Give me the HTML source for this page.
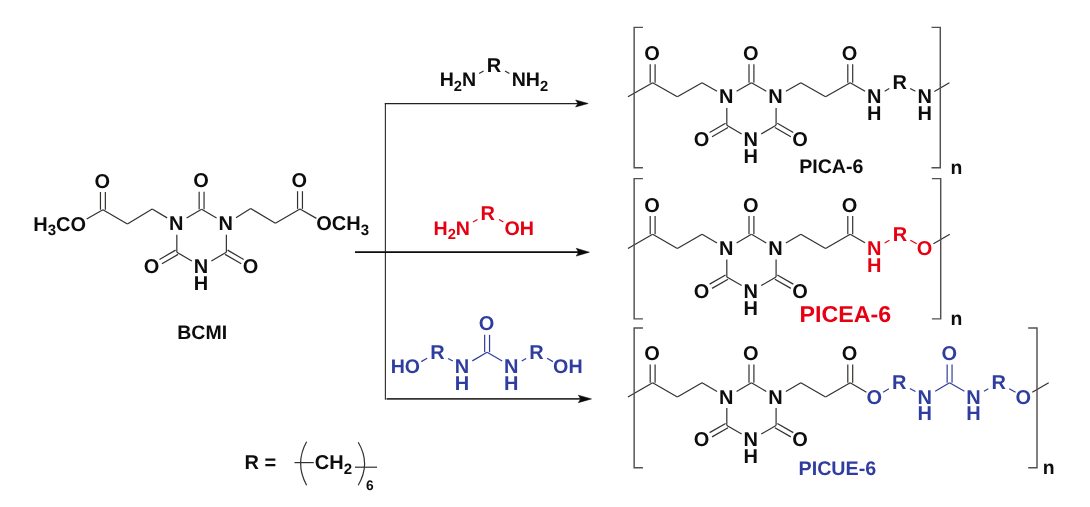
<!DOCTYPE html>
<html><head><meta charset="utf-8"><title>Scheme</title>
<style>
html,body{margin:0;padding:0;background:#fff;}
body{width:1090px;height:507px;overflow:hidden;}
svg{display:block;will-change:transform;text-rendering:geometricPrecision;font-family:"Liberation Sans",sans-serif;font-weight:bold;}
</style></head><body>
<svg width="1090" height="507" viewBox="0 0 1090 507">
<rect width="1090" height="507" fill="#fff"/>
<line x1="186.62" y1="218.00" x2="201.60" y2="209.35" stroke="#33302e" stroke-width="1.2" stroke-linecap="butt"/>
<line x1="201.60" y1="209.35" x2="216.58" y2="218.00" stroke="#33302e" stroke-width="1.2" stroke-linecap="butt"/>
<line x1="226.37" y1="234.65" x2="226.37" y2="252.25" stroke="#33302e" stroke-width="1.2" stroke-linecap="butt"/>
<line x1="226.37" y1="252.25" x2="211.39" y2="260.90" stroke="#33302e" stroke-width="1.2" stroke-linecap="butt"/>
<line x1="191.81" y1="260.90" x2="176.83" y2="252.25" stroke="#33302e" stroke-width="1.2" stroke-linecap="butt"/>
<line x1="176.83" y1="252.25" x2="176.83" y2="234.65" stroke="#33302e" stroke-width="1.2" stroke-linecap="butt"/>
<line x1="199.15" y1="209.35" x2="199.15" y2="191.65" stroke="#33302e" stroke-width="1.2" stroke-linecap="butt"/>
<line x1="204.05" y1="209.35" x2="204.05" y2="191.65" stroke="#33302e" stroke-width="1.2" stroke-linecap="butt"/>
<line x1="178.06" y1="254.37" x2="161.95" y2="263.67" stroke="#33302e" stroke-width="1.2" stroke-linecap="butt"/>
<line x1="175.61" y1="250.13" x2="159.50" y2="259.43" stroke="#33302e" stroke-width="1.2" stroke-linecap="butt"/>
<line x1="227.59" y1="250.13" x2="243.70" y2="259.43" stroke="#33302e" stroke-width="1.2" stroke-linecap="butt"/>
<line x1="225.14" y1="254.37" x2="241.25" y2="263.67" stroke="#33302e" stroke-width="1.2" stroke-linecap="butt"/>
<text x="176.23" y="230.23" fill="#0d0d0d" font-size="20.0" text-anchor="middle" >N</text>
<text x="225.77" y="230.23" fill="#0d0d0d" font-size="20.0" text-anchor="middle" >N</text>
<text x="201.00" y="273.13" fill="#0d0d0d" font-size="20.0" text-anchor="middle" >N</text>
<text x="201.00" y="290.03" fill="#0d0d0d" font-size="20.0" text-anchor="middle" >H</text>
<text x="201.00" y="187.33" fill="#0d0d0d" font-size="20.0" text-anchor="middle" >O</text>
<text x="151.46" y="273.13" fill="#0d0d0d" font-size="20.0" text-anchor="middle" >O</text>
<text x="250.54" y="273.13" fill="#0d0d0d" font-size="20.0" text-anchor="middle" >O</text>
<line x1="167.12" y1="217.87" x2="152.20" y2="209.00" stroke="#33302e" stroke-width="1.2" stroke-linecap="butt"/>
<line x1="152.20" y1="209.00" x2="127.40" y2="223.90" stroke="#33302e" stroke-width="1.2" stroke-linecap="butt"/>
<line x1="127.40" y1="223.90" x2="102.90" y2="209.70" stroke="#33302e" stroke-width="1.2" stroke-linecap="butt"/>
<line x1="100.45" y1="209.70" x2="100.45" y2="192.00" stroke="#33302e" stroke-width="1.2" stroke-linecap="butt"/>
<line x1="105.35" y1="209.70" x2="105.35" y2="192.00" stroke="#33302e" stroke-width="1.2" stroke-linecap="butt"/>
<line x1="102.90" y1="209.70" x2="86.71" y2="219.09" stroke="#33302e" stroke-width="1.2" stroke-linecap="butt"/>
<text x="102.30" y="187.68" fill="#0d0d0d" font-size="20.0" text-anchor="middle" >O</text>
<text x="86.05" y="230.68" fill="#0d0d0d" font-size="20.0" text-anchor="end" >H<tspan font-size="15.00" dy="4.70">3</tspan><tspan dy="-4.70">CO</tspan></text>
<line x1="235.98" y1="217.71" x2="250.70" y2="208.60" stroke="#33302e" stroke-width="1.2" stroke-linecap="butt"/>
<line x1="250.70" y1="208.60" x2="275.40" y2="223.20" stroke="#33302e" stroke-width="1.2" stroke-linecap="butt"/>
<line x1="275.40" y1="223.20" x2="300.00" y2="208.90" stroke="#33302e" stroke-width="1.2" stroke-linecap="butt"/>
<line x1="297.55" y1="208.90" x2="297.55" y2="191.20" stroke="#33302e" stroke-width="1.2" stroke-linecap="butt"/>
<line x1="302.45" y1="208.90" x2="302.45" y2="191.20" stroke="#33302e" stroke-width="1.2" stroke-linecap="butt"/>
<line x1="300.00" y1="208.90" x2="316.39" y2="218.39" stroke="#33302e" stroke-width="1.2" stroke-linecap="butt"/>
<text x="299.40" y="186.88" fill="#0d0d0d" font-size="20.0" text-anchor="middle" >O</text>
<text x="316.30" y="229.88" fill="#0d0d0d" font-size="20.0" text-anchor="start" >OCH<tspan font-size="15.00" dy="4.70">3</tspan></text>
<text x="202.20" y="338.91" fill="#0d0d0d" font-size="19.5" text-anchor="middle" >BCMI</text>
<line x1="385.40" y1="102.88" x2="385.40" y2="399.67" stroke="#33302e" stroke-width="1.15" stroke-linecap="butt"/>
<line x1="384.83" y1="103.50" x2="578.80" y2="103.50" stroke="#242221" stroke-width="1.25" stroke-linecap="butt"/>
<path d="M588.20,103.50 L575.60,100.00 L578.00,103.50 L575.60,107.00 Z" fill="#0a0808" stroke="#0a0808" stroke-width="0.5" stroke-linejoin="round"/>
<line x1="355.00" y1="252.20" x2="580.00" y2="252.20" stroke="#0d0b0b" stroke-width="1.75" stroke-linecap="butt"/>
<path d="M589.40,252.20 L576.20,248.30 L578.60,252.20 L576.20,256.10 Z" fill="#0a0808" stroke="#0a0808" stroke-width="0.5" stroke-linejoin="round"/>
<line x1="386.50" y1="398.90" x2="582.10" y2="398.90" stroke="#353230" stroke-width="1.75" stroke-linecap="butt"/>
<path d="M591.50,398.90 L578.30,395.15 L580.70,398.90 L578.30,402.65 Z" fill="#0a0808" stroke="#0a0808" stroke-width="0.5" stroke-linejoin="round"/>
<text x="476.20" y="86.04" fill="#0d0d0d" font-size="19.6" text-anchor="end" >H<tspan font-size="14.70" dy="4.61">2</tspan><tspan dy="-4.61">N</tspan></text>
<text x="494.00" y="71.78" fill="#0d0d0d" font-size="20.0" text-anchor="middle" >R</text>
<text x="511.70" y="86.04" fill="#0d0d0d" font-size="19.6" text-anchor="start" >NH<tspan font-size="14.70" dy="4.61">2</tspan></text>
<line x1="479.10" y1="73.60" x2="483.60" y2="71.00" stroke="#33302e" stroke-width="1.2" stroke-linecap="butt"/>
<line x1="505.00" y1="71.00" x2="509.40" y2="73.60" stroke="#33302e" stroke-width="1.2" stroke-linecap="butt"/>
<text x="470.00" y="234.74" fill="#e60012" font-size="19.6" text-anchor="end" >H<tspan font-size="14.70" dy="4.61">2</tspan><tspan dy="-4.61">N</tspan></text>
<text x="487.80" y="219.98" fill="#e60012" font-size="20.0" text-anchor="middle" >R</text>
<text x="504.40" y="234.78" fill="#e60012" font-size="19.7" text-anchor="start" >OH</text>
<line x1="473.00" y1="222.00" x2="477.50" y2="219.40" stroke="#e60012" stroke-width="1.2" stroke-linecap="butt"/>
<line x1="499.00" y1="219.40" x2="503.40" y2="222.00" stroke="#e60012" stroke-width="1.2" stroke-linecap="butt"/>
<line x1="484.65" y1="352.20" x2="484.65" y2="334.80" stroke="#2f3e9e" stroke-width="1.2" stroke-linecap="butt"/>
<line x1="489.55" y1="352.20" x2="489.55" y2="334.80" stroke="#2f3e9e" stroke-width="1.2" stroke-linecap="butt"/>
<line x1="487.10" y1="352.20" x2="472.34" y2="360.87" stroke="#2f3e9e" stroke-width="1.2" stroke-linecap="butt"/>
<line x1="487.10" y1="352.20" x2="502.13" y2="360.93" stroke="#2f3e9e" stroke-width="1.2" stroke-linecap="butt"/>
<line x1="452.76" y1="361.05" x2="448.05" y2="358.40" stroke="#2f3e9e" stroke-width="1.2" stroke-linecap="butt"/>
<line x1="521.71" y1="361.00" x2="526.18" y2="358.45" stroke="#2f3e9e" stroke-width="1.2" stroke-linecap="butt"/>
<line x1="427.12" y1="358.35" x2="421.28" y2="361.62" stroke="#2f3e9e" stroke-width="1.2" stroke-linecap="butt"/>
<line x1="547.08" y1="358.35" x2="552.92" y2="361.62" stroke="#2f3e9e" stroke-width="1.2" stroke-linecap="butt"/>
<text x="486.50" y="330.48" fill="#2f3e9e" font-size="20.0" text-anchor="middle" >O</text>
<text x="462.00" y="373.18" fill="#2f3e9e" font-size="20.0" text-anchor="middle" >N</text>
<text x="462.00" y="389.58" fill="#2f3e9e" font-size="20.0" text-anchor="middle" >H</text>
<text x="511.30" y="373.18" fill="#2f3e9e" font-size="20.0" text-anchor="middle" >N</text>
<text x="511.30" y="389.58" fill="#2f3e9e" font-size="20.0" text-anchor="middle" >H</text>
<text x="437.60" y="359.08" fill="#2f3e9e" font-size="20.0" text-anchor="middle" >R</text>
<text x="536.60" y="359.08" fill="#2f3e9e" font-size="20.0" text-anchor="middle" >R</text>
<text x="420.08" y="372.74" fill="#2f3e9e" font-size="19.6" text-anchor="end" >HO</text>
<text x="553.12" y="372.78" fill="#2f3e9e" font-size="19.7" text-anchor="start" >OH</text>
<line x1="736.60" y1="91.22" x2="751.45" y2="82.65" stroke="#33302e" stroke-width="1.2" stroke-linecap="butt"/>
<line x1="751.45" y1="82.65" x2="766.30" y2="91.22" stroke="#33302e" stroke-width="1.2" stroke-linecap="butt"/>
<line x1="776.09" y1="107.88" x2="776.09" y2="125.32" stroke="#33302e" stroke-width="1.2" stroke-linecap="butt"/>
<line x1="776.09" y1="125.32" x2="761.24" y2="133.90" stroke="#33302e" stroke-width="1.2" stroke-linecap="butt"/>
<line x1="741.66" y1="133.90" x2="726.81" y2="125.32" stroke="#33302e" stroke-width="1.2" stroke-linecap="butt"/>
<line x1="726.81" y1="125.32" x2="726.81" y2="107.88" stroke="#33302e" stroke-width="1.2" stroke-linecap="butt"/>
<line x1="749.00" y1="82.65" x2="749.00" y2="64.35" stroke="#33302e" stroke-width="1.2" stroke-linecap="butt"/>
<line x1="753.90" y1="82.65" x2="753.90" y2="64.35" stroke="#33302e" stroke-width="1.2" stroke-linecap="butt"/>
<line x1="728.04" y1="127.45" x2="712.06" y2="136.67" stroke="#33302e" stroke-width="1.2" stroke-linecap="butt"/>
<line x1="725.59" y1="123.20" x2="709.61" y2="132.43" stroke="#33302e" stroke-width="1.2" stroke-linecap="butt"/>
<line x1="777.31" y1="123.20" x2="793.29" y2="132.43" stroke="#33302e" stroke-width="1.2" stroke-linecap="butt"/>
<line x1="774.86" y1="127.45" x2="790.84" y2="136.67" stroke="#33302e" stroke-width="1.2" stroke-linecap="butt"/>
<text x="726.21" y="103.45" fill="#0d0d0d" font-size="20.0" text-anchor="middle" >N</text>
<text x="775.49" y="103.45" fill="#0d0d0d" font-size="20.0" text-anchor="middle" >N</text>
<text x="750.85" y="146.13" fill="#0d0d0d" font-size="20.0" text-anchor="middle" >N</text>
<text x="750.85" y="163.03" fill="#0d0d0d" font-size="20.0" text-anchor="middle" >H</text>
<text x="750.85" y="60.03" fill="#0d0d0d" font-size="20.0" text-anchor="middle" >O</text>
<text x="701.57" y="146.13" fill="#0d0d0d" font-size="20.0" text-anchor="middle" >O</text>
<text x="800.13" y="146.13" fill="#0d0d0d" font-size="20.0" text-anchor="middle" >O</text>
<line x1="717.01" y1="91.25" x2="702.05" y2="82.65" stroke="#33302e" stroke-width="1.2" stroke-linecap="butt"/>
<line x1="702.05" y1="82.65" x2="677.35" y2="96.75" stroke="#33302e" stroke-width="1.2" stroke-linecap="butt"/>
<line x1="677.35" y1="96.75" x2="652.65" y2="82.65" stroke="#33302e" stroke-width="1.2" stroke-linecap="butt"/>
<line x1="650.20" y1="82.65" x2="650.20" y2="64.35" stroke="#33302e" stroke-width="1.2" stroke-linecap="butt"/>
<line x1="655.10" y1="82.65" x2="655.10" y2="64.35" stroke="#33302e" stroke-width="1.2" stroke-linecap="butt"/>
<line x1="652.65" y1="82.65" x2="627.95" y2="96.75" stroke="#33302e" stroke-width="1.2" stroke-linecap="butt"/>
<text x="652.05" y="60.03" fill="#0d0d0d" font-size="20.0" text-anchor="middle" >O</text>
<line x1="785.89" y1="91.25" x2="800.85" y2="82.65" stroke="#33302e" stroke-width="1.2" stroke-linecap="butt"/>
<line x1="800.85" y1="82.65" x2="825.55" y2="96.75" stroke="#33302e" stroke-width="1.2" stroke-linecap="butt"/>
<line x1="825.55" y1="96.75" x2="850.25" y2="82.65" stroke="#33302e" stroke-width="1.2" stroke-linecap="butt"/>
<line x1="847.80" y1="82.65" x2="847.80" y2="64.35" stroke="#33302e" stroke-width="1.2" stroke-linecap="butt"/>
<line x1="852.70" y1="82.65" x2="852.70" y2="64.35" stroke="#33302e" stroke-width="1.2" stroke-linecap="butt"/>
<text x="849.65" y="60.03" fill="#0d0d0d" font-size="20.0" text-anchor="middle" >O</text>
<line x1="850.20" y1="82.65" x2="865.09" y2="91.15" stroke="#33302e" stroke-width="1.2" stroke-linecap="butt"/>
<line x1="884.72" y1="91.16" x2="889.22" y2="88.59" stroke="#33302e" stroke-width="1.2" stroke-linecap="butt"/>
<line x1="910.17" y1="88.43" x2="915.40" y2="91.31" stroke="#33302e" stroke-width="1.2" stroke-linecap="butt"/>
<line x1="934.36" y1="91.45" x2="949.40" y2="82.65" stroke="#33302e" stroke-width="1.2" stroke-linecap="butt"/>
<text x="874.30" y="103.33" fill="#0d0d0d" font-size="20.0" text-anchor="middle" >N</text>
<text x="874.30" y="120.23" fill="#0d0d0d" font-size="20.0" text-anchor="middle" >H</text>
<text x="899.65" y="89.23" fill="#0d0d0d" font-size="20.0" text-anchor="middle" >R</text>
<text x="924.70" y="103.33" fill="#0d0d0d" font-size="20.0" text-anchor="middle" >N</text>
<text x="924.70" y="120.23" fill="#0d0d0d" font-size="20.0" text-anchor="middle" >H</text>
<path d="M642.9499999999999,27.35 H634.15 V167.75 H642.9499999999999" fill="none" stroke="#55504c" stroke-width="1.45"/>
<path d="M931.5,27.35 H940.3 V167.75 H931.5" fill="none" stroke="#55504c" stroke-width="1.45"/>
<text x="831.30" y="172.54" fill="#0d0d0d" font-size="19.6" text-anchor="middle" >PICA-6</text>
<text x="950.60" y="173.97" fill="#0d0d0d" font-size="19.4" text-anchor="start" >n</text>
<line x1="736.60" y1="242.92" x2="751.45" y2="234.35" stroke="#33302e" stroke-width="1.2" stroke-linecap="butt"/>
<line x1="751.45" y1="234.35" x2="766.30" y2="242.92" stroke="#33302e" stroke-width="1.2" stroke-linecap="butt"/>
<line x1="776.09" y1="259.57" x2="776.09" y2="277.02" stroke="#33302e" stroke-width="1.2" stroke-linecap="butt"/>
<line x1="776.09" y1="277.02" x2="761.24" y2="285.60" stroke="#33302e" stroke-width="1.2" stroke-linecap="butt"/>
<line x1="741.66" y1="285.60" x2="726.81" y2="277.02" stroke="#33302e" stroke-width="1.2" stroke-linecap="butt"/>
<line x1="726.81" y1="277.02" x2="726.81" y2="259.57" stroke="#33302e" stroke-width="1.2" stroke-linecap="butt"/>
<line x1="749.00" y1="234.35" x2="749.00" y2="216.05" stroke="#33302e" stroke-width="1.2" stroke-linecap="butt"/>
<line x1="753.90" y1="234.35" x2="753.90" y2="216.05" stroke="#33302e" stroke-width="1.2" stroke-linecap="butt"/>
<line x1="728.04" y1="279.15" x2="712.06" y2="288.37" stroke="#33302e" stroke-width="1.2" stroke-linecap="butt"/>
<line x1="725.59" y1="274.90" x2="709.61" y2="284.13" stroke="#33302e" stroke-width="1.2" stroke-linecap="butt"/>
<line x1="777.31" y1="274.90" x2="793.29" y2="284.13" stroke="#33302e" stroke-width="1.2" stroke-linecap="butt"/>
<line x1="774.86" y1="279.15" x2="790.84" y2="288.37" stroke="#33302e" stroke-width="1.2" stroke-linecap="butt"/>
<text x="726.21" y="255.15" fill="#0d0d0d" font-size="20.0" text-anchor="middle" >N</text>
<text x="775.49" y="255.15" fill="#0d0d0d" font-size="20.0" text-anchor="middle" >N</text>
<text x="750.85" y="297.83" fill="#0d0d0d" font-size="20.0" text-anchor="middle" >N</text>
<text x="750.85" y="314.73" fill="#0d0d0d" font-size="20.0" text-anchor="middle" >H</text>
<text x="750.85" y="211.73" fill="#0d0d0d" font-size="20.0" text-anchor="middle" >O</text>
<text x="701.57" y="297.83" fill="#0d0d0d" font-size="20.0" text-anchor="middle" >O</text>
<text x="800.13" y="297.83" fill="#0d0d0d" font-size="20.0" text-anchor="middle" >O</text>
<line x1="717.01" y1="242.95" x2="702.05" y2="234.35" stroke="#33302e" stroke-width="1.2" stroke-linecap="butt"/>
<line x1="702.05" y1="234.35" x2="677.35" y2="248.45" stroke="#33302e" stroke-width="1.2" stroke-linecap="butt"/>
<line x1="677.35" y1="248.45" x2="652.65" y2="234.35" stroke="#33302e" stroke-width="1.2" stroke-linecap="butt"/>
<line x1="650.20" y1="234.35" x2="650.20" y2="216.05" stroke="#33302e" stroke-width="1.2" stroke-linecap="butt"/>
<line x1="655.10" y1="234.35" x2="655.10" y2="216.05" stroke="#33302e" stroke-width="1.2" stroke-linecap="butt"/>
<line x1="652.65" y1="234.35" x2="627.95" y2="248.45" stroke="#33302e" stroke-width="1.2" stroke-linecap="butt"/>
<text x="652.05" y="211.73" fill="#0d0d0d" font-size="20.0" text-anchor="middle" >O</text>
<line x1="785.89" y1="242.95" x2="800.85" y2="234.35" stroke="#33302e" stroke-width="1.2" stroke-linecap="butt"/>
<line x1="800.85" y1="234.35" x2="825.55" y2="248.45" stroke="#33302e" stroke-width="1.2" stroke-linecap="butt"/>
<line x1="825.55" y1="248.45" x2="850.25" y2="234.35" stroke="#33302e" stroke-width="1.2" stroke-linecap="butt"/>
<line x1="847.80" y1="234.35" x2="847.80" y2="216.05" stroke="#33302e" stroke-width="1.2" stroke-linecap="butt"/>
<line x1="852.70" y1="234.35" x2="852.70" y2="216.05" stroke="#33302e" stroke-width="1.2" stroke-linecap="butt"/>
<text x="849.65" y="211.73" fill="#0d0d0d" font-size="20.0" text-anchor="middle" >O</text>
<line x1="850.20" y1="234.35" x2="865.00" y2="242.83" stroke="#33302e" stroke-width="1.2" stroke-linecap="butt"/>
<line x1="884.65" y1="242.92" x2="889.44" y2="240.23" stroke="#e60012" stroke-width="1.2" stroke-linecap="butt"/>
<line x1="910.37" y1="240.21" x2="916.72" y2="243.76" stroke="#e60012" stroke-width="1.2" stroke-linecap="butt"/>
<line x1="933.44" y1="243.69" x2="949.80" y2="234.35" stroke="#33302e" stroke-width="1.2" stroke-linecap="butt"/>
<text x="874.20" y="255.03" fill="#e60012" font-size="20.0" text-anchor="middle" >N</text>
<text x="874.20" y="271.93" fill="#e60012" font-size="20.0" text-anchor="middle" >H</text>
<text x="899.90" y="240.93" fill="#e60012" font-size="20.0" text-anchor="middle" >R</text>
<text x="924.50" y="255.03" fill="#e60012" font-size="20.0" text-anchor="middle" >O</text>
<path d="M642.9499999999999,178.6 H634.15 V318.85 H642.9499999999999" fill="none" stroke="#55504c" stroke-width="1.45"/>
<path d="M931.9000000000001,178.6 H940.7 V318.85 H931.9000000000001" fill="none" stroke="#55504c" stroke-width="1.45"/>
<text x="799.50" y="322.16" fill="#e60012" font-size="23.0" text-anchor="start" textLength="91.6" lengthAdjust="spacingAndGlyphs">PICEA-6</text>
<text x="950.60" y="325.27" fill="#0d0d0d" font-size="19.4" text-anchor="start" >n</text>
<line x1="736.60" y1="391.42" x2="751.45" y2="382.85" stroke="#33302e" stroke-width="1.2" stroke-linecap="butt"/>
<line x1="751.45" y1="382.85" x2="766.30" y2="391.42" stroke="#33302e" stroke-width="1.2" stroke-linecap="butt"/>
<line x1="776.09" y1="408.07" x2="776.09" y2="425.52" stroke="#33302e" stroke-width="1.2" stroke-linecap="butt"/>
<line x1="776.09" y1="425.52" x2="761.24" y2="434.10" stroke="#33302e" stroke-width="1.2" stroke-linecap="butt"/>
<line x1="741.66" y1="434.10" x2="726.81" y2="425.52" stroke="#33302e" stroke-width="1.2" stroke-linecap="butt"/>
<line x1="726.81" y1="425.52" x2="726.81" y2="408.07" stroke="#33302e" stroke-width="1.2" stroke-linecap="butt"/>
<line x1="749.00" y1="382.85" x2="749.00" y2="364.55" stroke="#33302e" stroke-width="1.2" stroke-linecap="butt"/>
<line x1="753.90" y1="382.85" x2="753.90" y2="364.55" stroke="#33302e" stroke-width="1.2" stroke-linecap="butt"/>
<line x1="728.04" y1="427.65" x2="712.06" y2="436.87" stroke="#33302e" stroke-width="1.2" stroke-linecap="butt"/>
<line x1="725.59" y1="423.40" x2="709.61" y2="432.63" stroke="#33302e" stroke-width="1.2" stroke-linecap="butt"/>
<line x1="777.31" y1="423.40" x2="793.29" y2="432.63" stroke="#33302e" stroke-width="1.2" stroke-linecap="butt"/>
<line x1="774.86" y1="427.65" x2="790.84" y2="436.87" stroke="#33302e" stroke-width="1.2" stroke-linecap="butt"/>
<text x="726.21" y="403.65" fill="#0d0d0d" font-size="20.0" text-anchor="middle" >N</text>
<text x="775.49" y="403.65" fill="#0d0d0d" font-size="20.0" text-anchor="middle" >N</text>
<text x="750.85" y="446.33" fill="#0d0d0d" font-size="20.0" text-anchor="middle" >N</text>
<text x="750.85" y="463.23" fill="#0d0d0d" font-size="20.0" text-anchor="middle" >H</text>
<text x="750.85" y="360.23" fill="#0d0d0d" font-size="20.0" text-anchor="middle" >O</text>
<text x="701.57" y="446.33" fill="#0d0d0d" font-size="20.0" text-anchor="middle" >O</text>
<text x="800.13" y="446.33" fill="#0d0d0d" font-size="20.0" text-anchor="middle" >O</text>
<line x1="717.01" y1="391.45" x2="702.05" y2="382.85" stroke="#33302e" stroke-width="1.2" stroke-linecap="butt"/>
<line x1="702.05" y1="382.85" x2="677.35" y2="396.95" stroke="#33302e" stroke-width="1.2" stroke-linecap="butt"/>
<line x1="677.35" y1="396.95" x2="652.65" y2="382.85" stroke="#33302e" stroke-width="1.2" stroke-linecap="butt"/>
<line x1="650.20" y1="382.85" x2="650.20" y2="364.55" stroke="#33302e" stroke-width="1.2" stroke-linecap="butt"/>
<line x1="655.10" y1="382.85" x2="655.10" y2="364.55" stroke="#33302e" stroke-width="1.2" stroke-linecap="butt"/>
<line x1="652.65" y1="382.85" x2="627.95" y2="396.95" stroke="#33302e" stroke-width="1.2" stroke-linecap="butt"/>
<text x="652.05" y="360.23" fill="#0d0d0d" font-size="20.0" text-anchor="middle" >O</text>
<line x1="785.89" y1="391.45" x2="800.85" y2="382.85" stroke="#33302e" stroke-width="1.2" stroke-linecap="butt"/>
<line x1="800.85" y1="382.85" x2="825.55" y2="396.95" stroke="#33302e" stroke-width="1.2" stroke-linecap="butt"/>
<line x1="825.55" y1="396.95" x2="850.25" y2="382.85" stroke="#33302e" stroke-width="1.2" stroke-linecap="butt"/>
<line x1="847.80" y1="382.85" x2="847.80" y2="364.55" stroke="#33302e" stroke-width="1.2" stroke-linecap="butt"/>
<line x1="852.70" y1="382.85" x2="852.70" y2="364.55" stroke="#33302e" stroke-width="1.2" stroke-linecap="butt"/>
<text x="849.65" y="360.23" fill="#0d0d0d" font-size="20.0" text-anchor="middle" >O</text>
<line x1="850.20" y1="382.85" x2="866.47" y2="392.18" stroke="#33302e" stroke-width="1.2" stroke-linecap="butt"/>
<line x1="883.12" y1="392.16" x2="888.90" y2="388.84" stroke="#2f3e9e" stroke-width="1.2" stroke-linecap="butt"/>
<line x1="909.86" y1="388.55" x2="915.50" y2="391.59" stroke="#2f3e9e" stroke-width="1.2" stroke-linecap="butt"/>
<line x1="935.21" y1="391.25" x2="949.60" y2="382.85" stroke="#2f3e9e" stroke-width="1.2" stroke-linecap="butt"/>
<line x1="949.60" y1="382.85" x2="964.40" y2="391.33" stroke="#2f3e9e" stroke-width="1.2" stroke-linecap="butt"/>
<line x1="947.15" y1="382.85" x2="947.15" y2="364.55" stroke="#2f3e9e" stroke-width="1.2" stroke-linecap="butt"/>
<line x1="952.05" y1="382.85" x2="952.05" y2="364.55" stroke="#2f3e9e" stroke-width="1.2" stroke-linecap="butt"/>
<line x1="983.99" y1="391.31" x2="988.30" y2="388.84" stroke="#2f3e9e" stroke-width="1.2" stroke-linecap="butt"/>
<line x1="1009.18" y1="388.70" x2="1015.57" y2="392.27" stroke="#2f3e9e" stroke-width="1.2" stroke-linecap="butt"/>
<line x1="1032.29" y1="392.20" x2="1048.70" y2="382.85" stroke="#33302e" stroke-width="1.2" stroke-linecap="butt"/>
<text x="874.20" y="403.53" fill="#2f3e9e" font-size="20.0" text-anchor="middle" >O</text>
<text x="899.30" y="389.43" fill="#2f3e9e" font-size="20.0" text-anchor="middle" >R</text>
<text x="924.85" y="403.53" fill="#2f3e9e" font-size="20.0" text-anchor="middle" >N</text>
<text x="924.85" y="420.43" fill="#2f3e9e" font-size="20.0" text-anchor="middle" >H</text>
<text x="949.40" y="360.23" fill="#2f3e9e" font-size="20.0" text-anchor="middle" >O</text>
<text x="973.60" y="403.53" fill="#2f3e9e" font-size="20.0" text-anchor="middle" >N</text>
<text x="973.60" y="420.43" fill="#2f3e9e" font-size="20.0" text-anchor="middle" >H</text>
<text x="998.70" y="389.43" fill="#2f3e9e" font-size="20.0" text-anchor="middle" >R</text>
<text x="1023.35" y="403.53" fill="#2f3e9e" font-size="20.0" text-anchor="middle" >O</text>
<path d="M642.9499999999999,327.9 H634.15 V467.7 H642.9499999999999" fill="none" stroke="#55504c" stroke-width="1.45"/>
<path d="M1028.2,327.9 H1037.0 V467.7 H1028.2" fill="none" stroke="#55504c" stroke-width="1.45"/>
<text x="837.40" y="475.13" fill="#2f3e9e" font-size="19.7" text-anchor="middle" >PICUE-6</text>
<text x="1042.70" y="474.27" fill="#0d0d0d" font-size="19.4" text-anchor="start" >n</text>
<text x="244.60" y="469.28" fill="#0d0d0d" font-size="20.0" text-anchor="start" >R =</text>
<line x1="294.50" y1="462.60" x2="313.80" y2="462.60" stroke="#33302e" stroke-width="1.2" stroke-linecap="butt"/>
<text x="314.80" y="469.48" fill="#0d0d0d" font-size="20.0" text-anchor="start" >CH<tspan font-size="15.00" dy="4.70">2</tspan></text>
<line x1="355.00" y1="467.20" x2="377.00" y2="467.20" stroke="#33302e" stroke-width="1.2" stroke-linecap="butt"/>
<path d="M306.6,441.8 Q294.6,463.4 306.6,485.2" fill="none" stroke="#33302e" stroke-width="1.2"/>
<path d="M358.2,442.2 Q371.0,463.6 358.2,485.2" fill="none" stroke="#33302e" stroke-width="1.2"/>
<text x="369.80" y="489.75" fill="#0d0d0d" font-size="13.8" text-anchor="middle" >6</text>
</svg>
</body></html>
